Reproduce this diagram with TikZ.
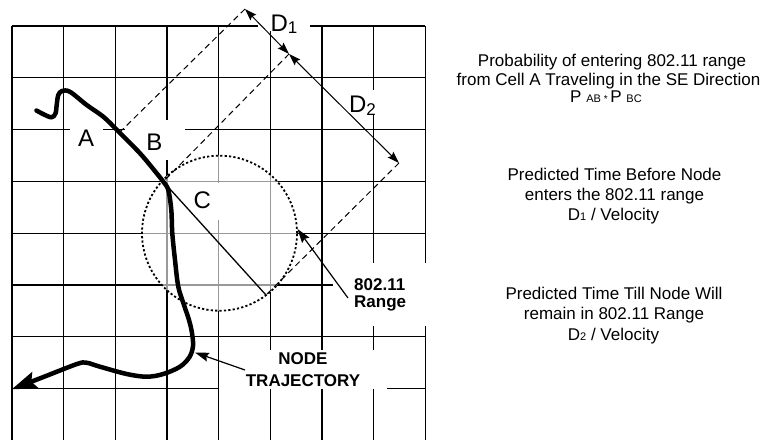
\documentclass[tikz,border=0pt]{standalone}
\usepackage{fontspec}
\setmainfont{Liberation Sans}
\usetikzlibrary{arrows.meta}
\newcommand\smallsub[1]{{\fontsize{11}{11}\selectfont #1}}
\newcommand\tinystar{{\fontsize{10}{10}\selectfont{} * }}
\begin{document}
\begin{tikzpicture}[x=1pt,y=-1pt,
  gridline/.style={line width=1.2pt, black},
  innergrid/.style={line width=1.2pt, black!40},
  lbl/.style={font=\fontsize{24}{24}\selectfont, fill=white, anchor=base, inner sep=0pt},
  rtext/.style={font=\fontsize{17}{20}\selectfont, anchor=base, inner sep=0pt},
  boldlbl/.style={font=\fontsize{17}{17.5}\selectfont\bfseries, fill=white},
  dashline/.style={line width=1pt, dash pattern=on 6pt off 4pt},
  dimarrow/.style={line width=1pt, {Stealth[length=12pt,width=8pt,inset=2pt]}-{Stealth[length=12pt,width=8pt,inset=2pt]}},
  ptr/.style={line width=1.2pt, -{Stealth[length=14pt,width=9pt,inset=2pt]}},
  traj/.style={line width=4.5pt, line cap=round, line join=round, -{Stealth[length=25pt,width=17pt,inset=4pt]}},
  rangecircle/.style={line width=1.8pt, dash pattern=on 2.2pt off 2.2pt},
]
\useasboundingbox (0,0) rectangle (769,440);

% grid
\foreach \i in {0,...,8} \draw[gridline] ({12+51.667*\i},26) -- ({12+51.667*\i},440);
\foreach \j in {0,...,7} \draw[gridline] (12,{26+51.8*\j}) -- (425.33,{26+51.8*\j});

% lighter grid inside the range circle
\coordinate (ctr) at (219.5,233.2);
\begin{scope}
  \clip (ctr) circle[radius=77.5pt];
  \fill[white] (100,100) rectangle (400,400);
  \foreach \i in {2,...,5} \draw[innergrid] ({12+51.667*\i},100) -- ({12+51.667*\i},400);
  \foreach \j in {2,...,5} \draw[innergrid] (100,{26+51.8*\j}) -- (400,{26+51.8*\j});
\end{scope}

% labels on the grid
\node[lbl, text height=26pt, text depth=5pt, inner xsep=8.5pt] (A) at (86.2,146.7) {A};
\node[lbl, text height=30pt, text depth=10pt, minimum width=60pt] (B) at (154.5,150) {B};
\node[lbl, text height=25pt, text depth=12pt, minimum width=34.5pt] (C) at (202.25,208) {C};
\node[lbl, text height=23pt, text depth=0pt, minimum width=52pt] (D1) at (284,31) {D\raisebox{-2pt}{\fontsize{17}{17}\selectfont 1}};
\node[lbl, text height=22pt, text depth=3pt, inner xsep=2pt] (D2) at (362.4,112) {D\raisebox{-3pt}{\fontsize{17}{17}\selectfont 2}};
\node[boldlbl, align=left, inner xsep=21pt, inner ysep=15pt, anchor=north west] (range) at (333,263) {802.11\\Range};
\node[boldlbl, font=\fontsize{17}{21.5}\selectfont\bfseries, align=center, inner xsep=27pt, inner ysep=2.5pt, anchor=north] (nt) at (303,350) {NODE\\TRAJECTORY};

% range circle
\draw[rangecircle] (ctr) circle[radius=77.5pt];

% key points
\coordinate (T) at (245,9);
\coordinate (M) at (289,54);
\coordinate (R) at (399,163);
\coordinate (Aend) at (121,131);
\coordinate (Bend) at (163.3,181.7);
\coordinate (Cend) at (266,295);

% dashed projection lines
\draw[dashline] (T) -- (Aend);
\draw[dashline] (M) -- (Bend);
\draw[dashline] (R) -- (Cend);
% heading line
\draw[line width=1.3pt] (Bend) -- (Cend);
% distances
\draw[dimarrow] (T) -- (M);
\draw[dimarrow] (M) -- (R);

% trajectory
\draw[traj] plot[smooth, tension=0.55] coordinates {
 (36.5,110.5) (44,114.5) (51.5,117.3) (55.5,113.5) (56.8,104) (58.3,95) (62,91) (70,91.8)
 (86.7,105) (103.3,116.7) (117,130) (140,153.3) (156.7,173.3) (163.3,181.7) (168.3,190)
 (171.3,210) (172.3,233.3) (175,260) (178.3,286.7) (184,305) (189,320) (192,333)
 (193,346) (189.5,357) (180,366.7) (163.3,374) (146.7,376.7) (126.7,374) (100,366.7)
 (86.5,362.7) (77,364) (45,376.4) (11.7,389.3)};

% pointers
\coordinate (rs) at (348,298);
\coordinate (rt) at (297.5,229);
\draw[ptr] (rs) -- (rt);
\coordinate (ns) at (245,370);
\coordinate (nte) at (195,352.5);
\draw[ptr] (ns) -- (nte);

% explanatory text
\node[rtext] (p1) at (612,66.7) {Probability of entering 802.11 range};
\node[rtext] (p2) at (608.5,85.7) {from Cell A Traveling in the SE Direction};
\node[rtext] (p3) at (606,102.7) {P \smallsub{AB}\tinystar P \smallsub{BC}};
\node[rtext] (t1) at (614.5,180.5) {Predicted Time Before Node};
\node[rtext] (t2) at (614.5,200.5) {enters the 802.11 range};
\node[rtext] (t3) at (613.5,220.7) {D\smallsub{1} / Velocity};
\node[rtext] (u1) at (614,299) {Predicted Time Till Node Will};
\node[rtext] (u2) at (614,319.5) {remain in 802.11 Range};
\node[rtext] (u3) at (613.5,340) {D\smallsub{2} / Velocity};
\end{tikzpicture}
\end{document}
